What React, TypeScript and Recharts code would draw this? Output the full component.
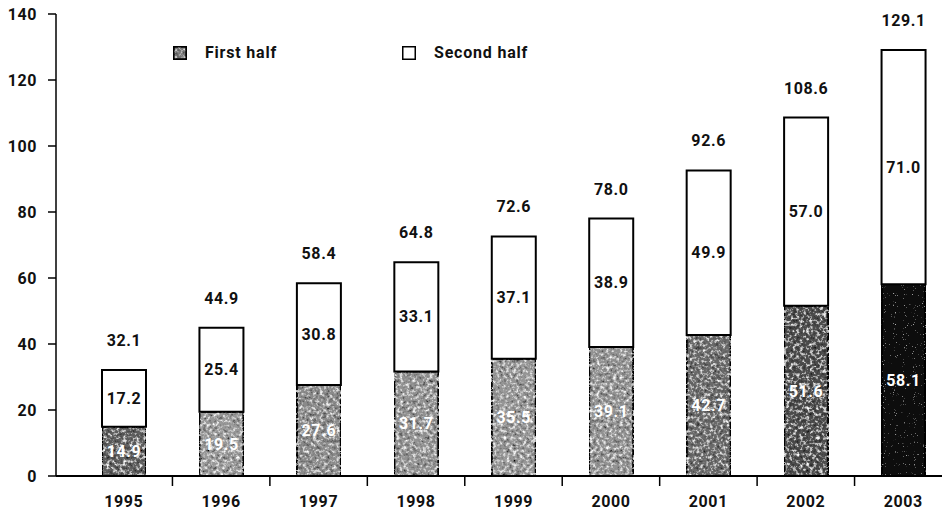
import { BarChart, Bar, XAxis, YAxis, Cell, LabelList } from "recharts";

const years = ["1995", "1996", "1997", "1998", "1999", "2000", "2001", "2002", "2003"];
const firstHalf = [14.9, 19.5, 27.6, 31.7, 35.5, 39.1, 42.7, 51.6, 58.1];
const secondHalf = [17.2, 25.4, 30.8, 33.1, 37.1, 38.9, 49.9, 57.0, 71.0];
const yTicks = [0, 20, 40, 60, 80, 100, 120, 140];

// first-half shading gets darker towards the later years
const firstShades = ["#5e5e5e", "#989898", "#8a8a8a", "#929292", "#969696", "#929292", "#6a6a6a", "#4e4e4e", "#0c0c0c"];
const firstGrain = ["grain", "grain", "grain", "grain", "grain", "grain", "grain", "grain", "grainSparse"];

const data = years.map((year, i) => ({
  year,
  first: firstHalf[i],
  second: secondHalf[i],
  total: +(firstHalf[i] + secondHalf[i]).toFixed(1),
}));

const FONT = "Roboto, 'DejaVu Sans', sans-serif";

function YearTick(props: any) {
  const { x, y, payload } = props;
  const half = payload?.offset ?? 48;
  return (
    <g>
      <line x1={x + half} x2={x + half} y1={y} y2={y + 10} stroke="#000" strokeWidth={1.5} />
      <text
        x={x}
        y={y + 27}
        textAnchor="middle"
        dominantBaseline="middle"
        fontFamily={FONT}
        fontWeight={700}
        fontSize={16}
        letterSpacing={0.6}
        fill="#111"
      >
        {payload.value}
      </text>
    </g>
  );
}

// legend drawn as an overlay so it doesn't shrink the plot area
function ChartLegend() {
  const items = [
    { label: "First half", grain: true },
    { label: "Second half", grain: false },
  ];
  return (
    <div
      style={{
        position: "absolute",
        left: 173,
        top: 43,
        display: "flex",
        fontFamily: FONT,
        fontWeight: 700,
        fontSize: 16,
        letterSpacing: 0.8,
        color: "#111",
      }}
    >
      {items.map((it) => (
        <div key={it.label} style={{ width: 229, display: "flex", alignItems: "center" }}>
          <svg width={14} height={14} style={{ marginRight: 18 }}>
            <rect x={0.75} y={0.75} width={12.5} height={12.5} fill={it.grain ? "#000" : "#fff"} stroke="#000" strokeWidth={1.5} />
            {it.grain && <rect x={1.5} y={1.5} width={11} height={11} fill="#7a7a7a" filter="url(#grain)" />}
          </svg>
          <span>{it.label}</span>
        </div>
      ))}
    </div>
  );
}

export default function App() {
  return (
    <div style={{ position: "absolute", left: 0, top: 0, width: 942, height: 515, overflow: "hidden", background: "#fff" }}>
      <BarChart width={960} height={515} data={data} margin={{ top: 14, right: 0, bottom: 0, left: 0 }} barSize={44}>
        <defs>
          <filter id="grain" x="0" y="0" width="1" height="1">
            <feTurbulence type="fractalNoise" baseFrequency="0.3" numOctaves={3} seed={7} result="noise" />
            <feColorMatrix
              in="noise"
              type="matrix"
              values="0 0 0 0 1  0 0 0 0 1  0 0 0 0 1  3 0 0 0 -1.55"
              result="light"
            />
            <feColorMatrix
              in="noise"
              type="matrix"
              values="0 0 0 0 0  0 0 0 0 0  0 0 0 0 0  -3 0 0 0 1.3"
              result="dark"
            />
            <feMerge result="specks">
              <feMergeNode in="SourceGraphic" />
              <feMergeNode in="light" />
              <feMergeNode in="dark" />
            </feMerge>
            <feComposite in="specks" in2="SourceGraphic" operator="in" />
          </filter>
          <filter id="grainSparse" x="0" y="0" width="1" height="1">
            <feTurbulence type="fractalNoise" baseFrequency="0.9" numOctaves={1} seed={3} result="noise" />
            <feColorMatrix
              in="noise"
              type="matrix"
              values="0 0 0 0 0.6  0 0 0 0 0.6  0 0 0 0 0.6  5 0 0 0 -3.4"
              result="light"
            />
            <feMerge result="specks">
              <feMergeNode in="SourceGraphic" />
              <feMergeNode in="light" />
            </feMerge>
            <feComposite in="specks" in2="SourceGraphic" operator="in" />
          </filter>
        </defs>
        <XAxis
          dataKey="year"
          height={39}
          tick={<YearTick />}
          tickLine={false}
          tickSize={0}
          tickMargin={0}
          axisLine={{ stroke: "#000", strokeWidth: 2 }}
          padding={{ left: 19, right: 8 }}
          interval={0}
        />
        <YAxis
          width={56}
          domain={[0, 140]}
          ticks={yTicks}
          interval={0}
          tickSize={8}
          tickMargin={11}
          axisLine={{ stroke: "#000", strokeWidth: 1.5 }}
          tickLine={{ stroke: "#000", strokeWidth: 1.5 }}
          tick={{ fontFamily: FONT, fontWeight: 700, fontSize: 16, fill: "#111", letterSpacing: 0.6 }}
        />
        <Bar dataKey="first" name="First half" stackId="h" stroke="#000" strokeWidth={2} isAnimationActive={false}>
          {data.map((d, i) => (
            <Cell key={d.year} fill={firstShades[i]} filter={`url(#${firstGrain[i]})`} />
          ))}
          <LabelList
            dataKey="first"
            position="center"
            fill="#fff"
            stroke="none"
            fontFamily={FONT}
            fontWeight={700}
            fontSize={16}
            letterSpacing={0.6}
            formatter={(v: any) => Number(v).toFixed(1)}
          />
        </Bar>
        <Bar dataKey="second" name="Second half" stackId="h" fill="#fff" stroke="#000" strokeWidth={2} isAnimationActive={false}>
          <LabelList
            dataKey="second"
            position="center"
            fill="#111"
            stroke="none"
            fontFamily={FONT}
            fontWeight={700}
            fontSize={16}
            letterSpacing={0.6}
            formatter={(v: any) => Number(v).toFixed(1)}
          />
          <LabelList
            dataKey="total"
            position="top"
            offset={24}
            fill="#111"
            stroke="none"
            fontFamily={FONT}
            fontWeight={700}
            fontSize={16}
            letterSpacing={0.6}
            formatter={(v: any) => Number(v).toFixed(1)}
          />
        </Bar>
      </BarChart>
      <ChartLegend />
    </div>
  );
}
